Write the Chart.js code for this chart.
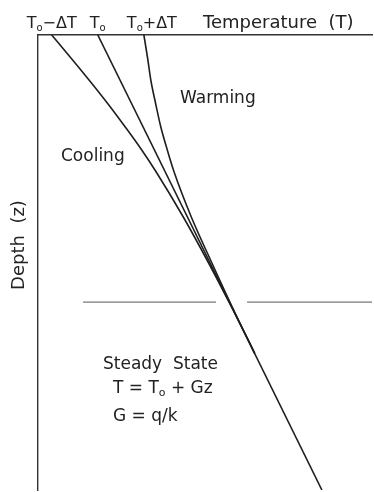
<!DOCTYPE html>
<html>
<head>
<meta charset="utf-8">
<script src="https://cdn.jsdelivr.net/npm/chart.js@4.4.1/dist/chart.umd.min.js"></script>
<style>
  html, body { margin: 0; padding: 0; background: #fff; }
  #wrap { position: relative; width: 374px; height: 492px; }
</style>
</head>
<body>
<div id="wrap"><canvas id="chart"></canvas></div>
<script>
// Depth profile data (arbitrary units: temperature 0-100 across, depth 0-100 down)
const depth = [0, 5, 10, 15, 20, 25, 30, 40, 50, 60, 70];
const coolingT = [4.1, 9.8, 15.4, 20.8, 25.9, 30.8, 35.3, 43.5, 51.0, 58.1, 64.9];
const warmingT = [31.7, 32.8, 33.8, 35.2, 36.7, 38.6, 40.7, 45.9, 52.0, 58.3, 64.9];
const steadyDepth = [0, 100];
const steadyT = [17.9, 85.0];

// broken horizontal line marking the steady-state zone
const dividerDepth = 58.7;
const dividerLeftT = [13.5, 53.3];
const dividerRightT = [62.6, 100];

const toPoints = (xs, ys) => xs.map((x, i) => ({x: x, y: ys[i]}));

const lineColor = '#1e1e1e';
const textColor = '#222';
const fontFamily = '"DejaVu Sans", sans-serif';

// draw text made of pieces, some of them subscripts
function drawRich(ctx, parts, x, y, size, align) {
  const widths = parts.map(p => {
    ctx.font = (p.sub ? Math.round(size * 0.62) : size) + 'px ' + fontFamily;
    return ctx.measureText(p.t).width;
  });
  const total = widths.reduce((a, b) => a + b, 0);
  let cx = align === 'center' ? x - total / 2 : x;
  parts.forEach((p, i) => {
    ctx.font = (p.sub ? Math.round(size * 0.62) : size) + 'px ' + fontFamily;
    ctx.fillText(p.t, cx, p.sub ? y + size * 0.18 : y);
    cx += widths[i];
  });
}

const labelsPlugin = {
  id: 'profileLabels',
  afterDraw(chart) {
    const ctx = chart.ctx;
    const xs = chart.scales.x;
    const ys = chart.scales.y;
    ctx.save();
    ctx.fillStyle = textColor;
    ctx.textBaseline = 'alphabetic';
    ctx.textAlign = 'left';

    // labels over the surface temperatures
    const top = 28;
    drawRich(ctx, [{t: 'T'}, {t: 'o', sub: true}, {t: '\u2212\u0394T'}], xs.getPixelForValue(coolingT[0]), top, 16, 'center');
    drawRich(ctx, [{t: 'T'}, {t: 'o', sub: true}], xs.getPixelForValue(steadyT[0]), top, 16, 'center');
    drawRich(ctx, [{t: 'T'}, {t: 'o', sub: true}, {t: '+\u0394T'}], xs.getPixelForValue(warmingT[0]) + 8, top, 16, 'center');

    ctx.font = '18px ' + fontFamily;
    ctx.fillText('Temperature  (T)', 203, 28);

    ctx.font = '17px ' + fontFamily;
    ctx.fillText('Warming', 180, 103);
    ctx.fillText('Cooling', 61, 161);
    ctx.fillText('Steady  State', 103, 369);

    drawRich(ctx, [{t: 'T = T'}, {t: 'o', sub: true}, {t: ' + Gz'}], 113, 393, 17, 'left');
    ctx.font = '17px ' + fontFamily;
    ctx.fillText('G = q/k', 113, 421);

    // vertical axis title
    ctx.translate(24, 245);
    ctx.rotate(-Math.PI / 2);
    ctx.textAlign = 'center';
    ctx.font = '18px ' + fontFamily;
    ctx.fillText('Depth  (z)', 0, 0);
    ctx.restore();
  }
};

const curveStyle = {
  showLine: true,
  borderColor: lineColor,
  borderWidth: 1.6,
  pointRadius: 0,
  fill: false,
  cubicInterpolationMode: 'monotone'
};

new Chart(document.getElementById('chart'), {
  type: 'scatter',
  data: {
    datasets: [
      Object.assign({label: 'Cooling', data: toPoints(coolingT, depth)}, curveStyle),
      Object.assign({label: 'Warming', data: toPoints(warmingT, depth)}, curveStyle),
      Object.assign({label: 'Steady', data: toPoints(steadyT, steadyDepth)}, curveStyle),
      {
        label: 'divider left',
        data: toPoints(dividerLeftT, [dividerDepth, dividerDepth]),
        showLine: true, borderColor: '#555', borderWidth: 1, pointRadius: 0
      },
      {
        label: 'divider right',
        data: toPoints(dividerRightT, [dividerDepth, dividerDepth]),
        showLine: true, borderColor: '#555', borderWidth: 1, pointRadius: 0
      }
    ]
  },
  options: {
    responsive: true,
    maintainAspectRatio: false,
    animation: false,
    layout: {padding: {left: 38, top: 35, right: 2, bottom: 2}},
    plugins: {
      legend: {display: false},
      tooltip: {enabled: false}
    },
    scales: {
      x: {
        type: 'linear',
        position: 'top',
        min: 0,
        max: 100,
        ticks: {display: false},
        grid: {display: false, drawTicks: false},
        border: {display: true, color: '#333', width: 1.4}
      },
      y: {
        type: 'linear',
        reverse: true,
        min: 0,
        max: 100,
        ticks: {display: false},
        grid: {display: false, drawTicks: false},
        border: {display: true, color: '#333', width: 1.4}
      }
    }
  },
  plugins: [labelsPlugin]
});
</script>
</body>
</html>
